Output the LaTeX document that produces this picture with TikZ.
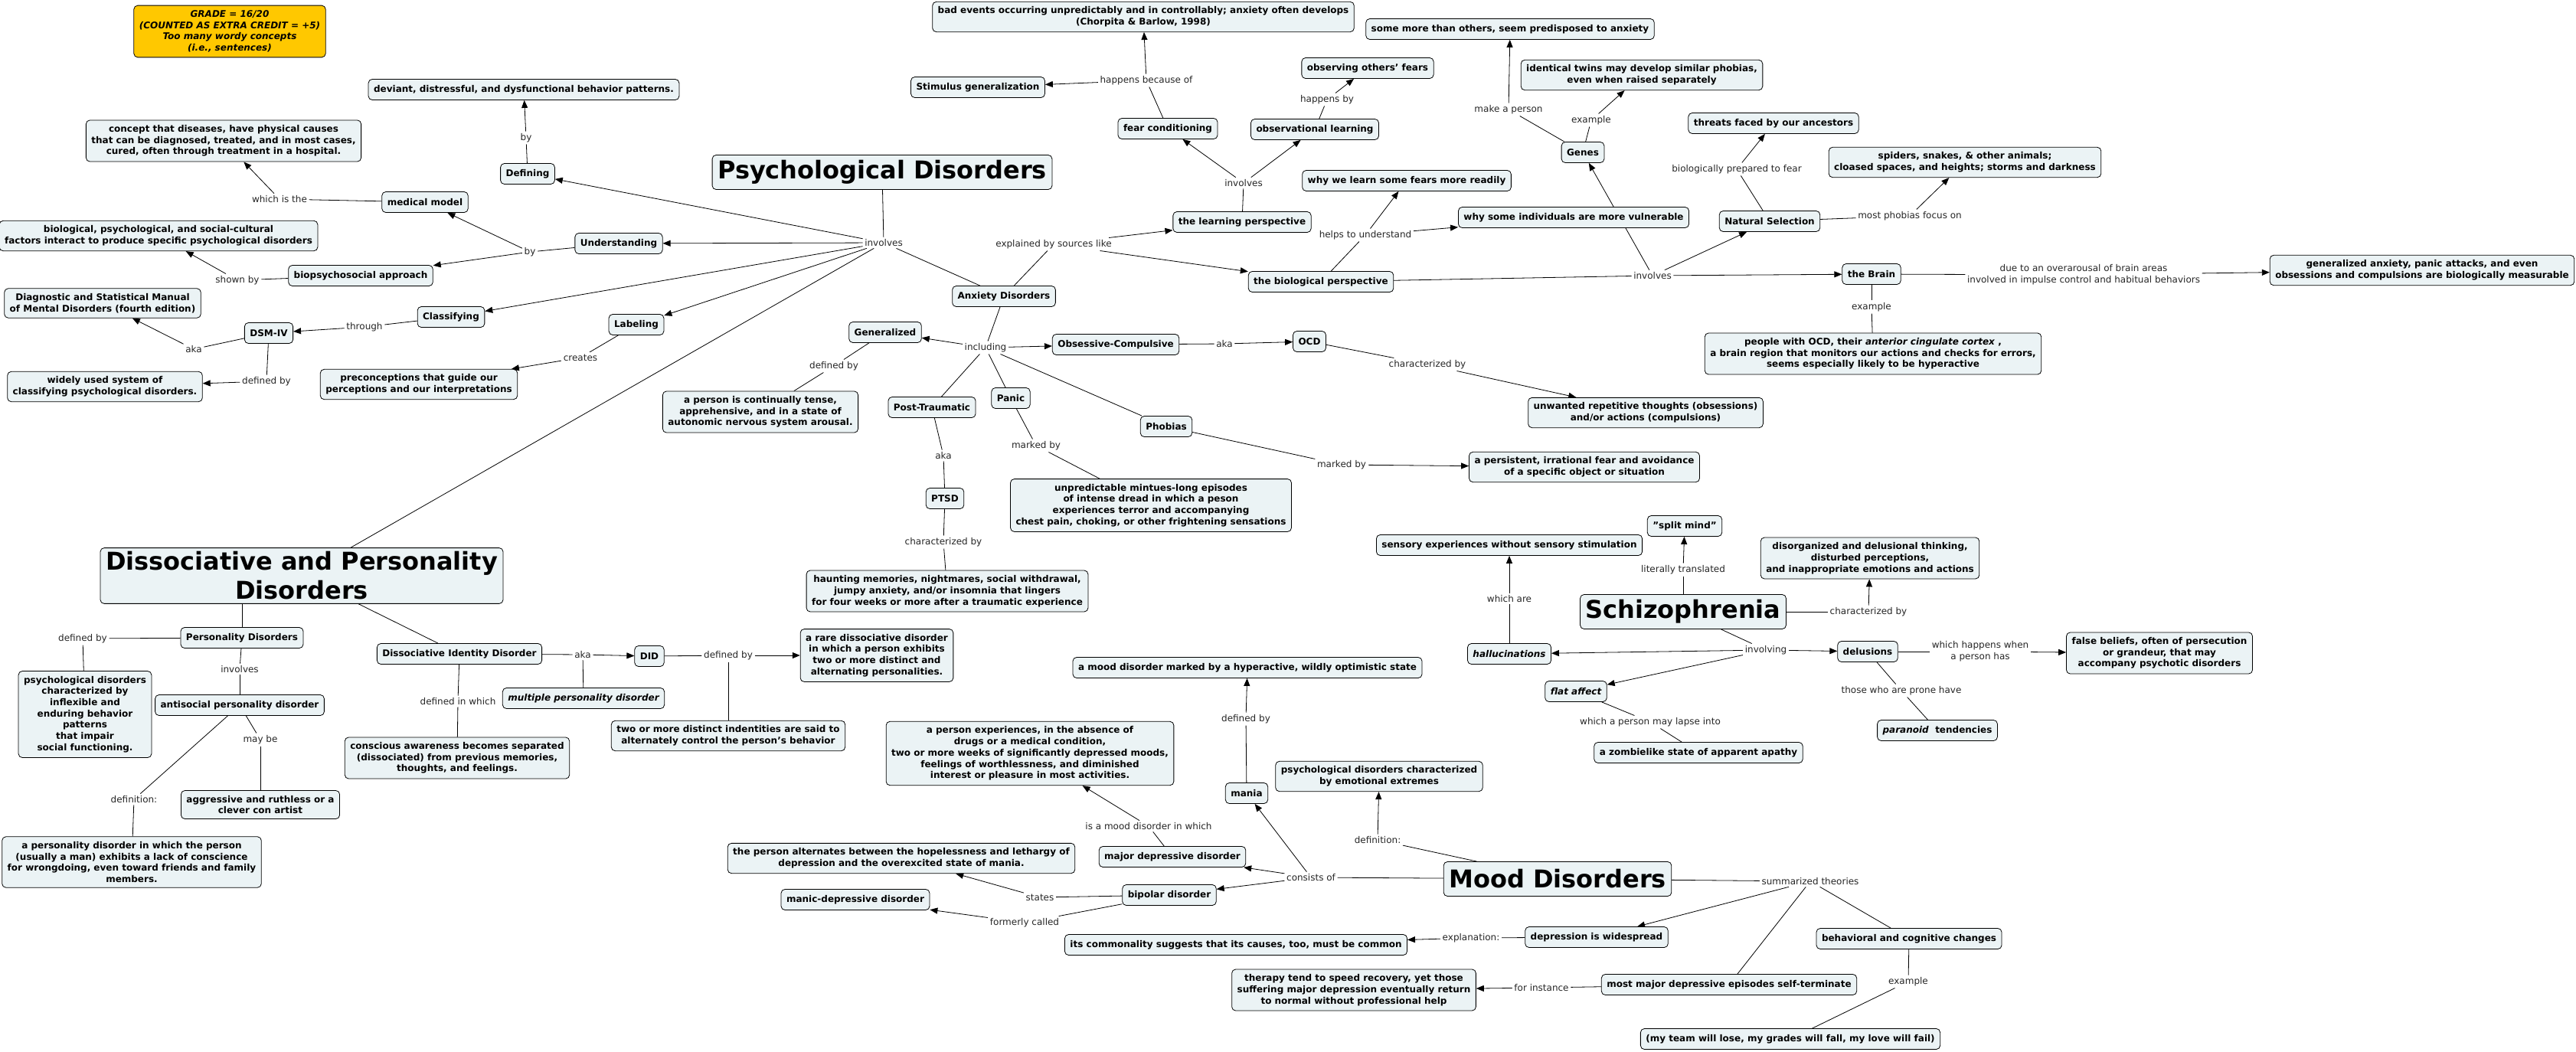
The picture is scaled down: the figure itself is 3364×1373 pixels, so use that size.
\documentclass[tikz,border=0pt]{standalone}
\usepackage{fontspec}
\setmainfont{DejaVu Sans}
\usetikzlibrary{arrows.meta}
\definecolor{cfill}{RGB}{235,243,245}
\definecolor{gold}{RGB}{255,200,0}
\newcommand\cfont{\fontsize{12}{14.7}\selectfont\bfseries}
\newcommand\lfont{\fontsize{12}{14.7}\selectfont}
\newcommand\tfont{\fontsize{32}{38}\selectfont\bfseries}
\newcommand\lnk[2]{\draw[ln] (#1) -- (#2);}
\newcommand\arw[2]{\draw[arr] (#1) -- (#2);}
\pgfdeclarelayer{back}
\pgfdeclarelayer{edges}
\pgfsetlayers{back,edges,main}
\tikzset{
 concept/.style={draw=black, line width=0.8pt, fill=cfill, rounded corners=5pt, align=center, font=\cfont, inner xsep=7pt, inner ysep=6.5pt, minimum height=27pt},
 ttl/.style={concept, font=\tfont, inner xsep=7pt, inner ysep=5pt, minimum height=45pt},
 lbl/.style={fill=white, align=center, font=\lfont, text=black!85, inner sep=2.5pt},
 ln/.style={line width=0.8pt},
 arr/.style={line width=0.8pt, -{Triangle[length=10pt,width=8pt]}}
}
\begin{document}
\begin{tikzpicture}[x=1pt,y=-1pt]
\useasboundingbox (0,0) rectangle (3364,1373);
\begin{pgfonlayer}{back}
\fill[white] (0,0) rectangle (3364,1373);
\end{pgfonlayer}

% ---------- concepts ----------
\node[concept, fill=gold, font=\cfont\itshape] (grade) at (300,41) {GRADE = 16/20\\(COUNTED AS EXTRA CREDIT = +5)\\Too many wordy concepts\\(i.e., sentences)};
\node[concept] (deviant) at (684,117) {deviant, distressful, and dysfunctional behavior patterns.};
\node[concept] (medconcept) at (292,184) {concept that diseases, have physical causes\\that can be diagnosed, treated, and in most cases,\\cured, often through treatment in a hospital.};
\node[concept] (defining) at (689,227) {Defining};
\node[concept] (medmodel) at (555,264) {medical model};
\node[concept] (biofactors) at (207,308) {biological, psychological, and social-cultural\\factors interact to produce specific psychological disorders};
\node[concept] (understanding) at (808,318) {Understanding};
\node[concept] (biopsy) at (471,360) {biopsychosocial approach};
\node[concept] (diagnostic) at (134,396) {Diagnostic and Statistical Manual\\of Mental Disorders (fourth edition)};
\node[concept] (classifying) at (589,414) {Classifying};
\node[concept] (dsm) at (351,435) {DSM-IV};
\node[concept] (labeling) at (831,424) {Labeling};
\node[concept] (widely) at (137,505) {widely used system of\\classifying psychological disorders.};
\node[concept] (precon) at (547,502) {preconceptions that guide our\\perceptions and our interpretations};
\node[ttl] (dapd) at (394,752) {Dissociative and Personality\\Disorders};
\node[concept] (persdis) at (316,833) {Personality Disorders};
\node[concept] (disfull) at (600,854) {Dissociative Identity Disorder};
\node[concept] (did) at (848,857) {DID};
\node[concept] (pdchar) at (111,933) {psychological disorders\\characterized by\\inflexible and\\enduring behavior\\patterns\\that impair\\social functioning.};
\node[concept] (antisocial) at (313,921) {antisocial personality disorder};
\node[concept, font=\cfont\itshape] (multiple) at (762,912) {multiple personality disorder};
\node[concept] (twoormore) at (951,961) {two or more distinct indentities are said to\\alternately control the person's behavior};
\node[concept] (conscious) at (597,990) {conscious awareness becomes separated\\(dissociated) from previous memories,\\thoughts, and feelings.};
\node[concept] (aggressive) at (340,1051) {aggressive and ruthless or a\\clever con artist};
\node[concept] (apd) at (172,1126) {a personality disorder in which the person\\(usually a man) exhibits a lack of conscience\\for wrongdoing, even toward friends and family\\members.};

\node[ttl] (psych) at (1152,225) {Psychological Disorders};
\node[concept] (badevents) at (1493,22) {bad events occurring unpredictably and in controllably; anxiety often develops\\(Chorpita \& Barlow, 1998)};
\node[concept] (stimgen) at (1277,114) {Stimulus generalization};
\node[concept] (fearcond) at (1525,168) {fear conditioning};
\node[concept] (obslearn) at (1717,169) {observational learning};
\node[concept] (obsothers) at (1786,89) {observing others' fears};
\node[concept] (learnpersp) at (1622,290) {the learning perspective};
\node[concept] (whylearn) at (1837,236) {why we learn some fears more readily};
\node[concept] (biopersp) at (1725,368) {the biological perspective};
\node[concept] (anxiety) at (1311,387) {Anxiety Disorders};
\node[concept] (generalized) at (1156,434) {Generalized};
\node[concept] (oc) at (1457,450) {Obsessive-Compulsive};
\node[concept] (ocd) at (1710,446) {OCD};
\node[concept] (tense) at (993,538) {a person is continually tense,\\apprehensive, and in a state of\\autonomic nervous system arousal.};
\node[concept] (posttraumatic) at (1217,532) {Post-Traumatic};
\node[concept] (panic) at (1320,520) {Panic};
\node[concept] (phobias) at (1523,557) {Phobias};
\node[concept] (ptsd) at (1234,651) {PTSD};
\node[concept] (unpredictable) at (1503,660) {unpredictable mintues-long episodes\\of intense dread in which a peson\\experiences terror and accompanying\\chest pain, choking, or other frightening sensations};
\node[concept] (haunting) at (1237,772) {haunting memories, nightmares, social withdrawal,\\jumpy anxiety, and/or insomnia that lingers\\for four weeks or more after a traumatic experience};
\node[concept] (rare) at (1145,856) {a rare dissociative disorder\\in which a person exhibits\\two or more distinct and\\alternating personalities.};
\node[concept] (moodmania) at (1629,872) {a mood disorder marked by a hyperactive, wildly optimistic state};

\node[concept] (somemore) at (1972,38) {some more than others, seem predisposed to anxiety};
\node[concept] (twins) at (2144,98) {identical twins may develop similar phobias,\\even when raised separately};
\node[concept] (threats) at (2316,161) {threats faced by our ancestors};
\node[concept] (genes) at (2067,199) {Genes};
\node[concept] (spiders) at (2566,212) {spiders, snakes, \& other animals;\\cloased spaces, and heights; storms and darkness};
\node[concept] (whysome) at (2055,284) {why some individuals are more vulnerable};
\node[concept] (natsel) at (2311,289) {Natural Selection};
\node[concept] (brain) at (2444,358) {the Brain};
\node[concept] (peopleocd) at (2446,462) {people with OCD, their \textit{anterior cingulate cortex} ,\\a brain region that monitors our actions and checks for errors,\\seems especially likely to be hyperactive};
\node[concept] (genanx) at (3163,353) {generalized anxiety, panic attacks, and even\\obsessions and compulsions are biologically measurable};
\node[concept] (unwanted) at (2149,539) {unwanted repetitive thoughts (obsessions)\\and/or actions (compulsions)};
\node[concept] (persistent) at (2069,610) {a persistent, irrational fear and avoidance\\of a specific object or situation};

\node[concept] (splitmind) at (2200,687) {"split mind"};
\node[concept] (sensory) at (1971,712) {sensory experiences without sensory stimulation};
\node[concept] (disorganized) at (2442,729) {disorganized and delusional thinking,\\disturbed perceptions,\\and inappropriate emotions and actions};
\node[ttl] (schizo) at (2198,799) {Schizophrenia};
\node[concept, font=\cfont\itshape] (halluc) at (1971,854) {hallucinations};
\node[concept] (delusions) at (2439,851) {delusions};
\node[concept] (falsebel) at (2820,853) {false beliefs, often of persecution\\or grandeur, that may\\accompany psychotic disorders};
\node[concept, font=\cfont\itshape] (flataffect) at (2058,903) {flat affect};
\node[concept] (paranoid) at (2530,954) {\textit{paranoid}\ \ tendencies};
\node[concept] (zombie) at (2218,983) {a zombielike state of apparent apathy};

\node[concept] (mdexp) at (1345,984) {a person experiences, in the absence of\\drugs or a medical condition,\\two or more weeks of significantly depressed moods,\\feelings of worthlessness, and diminished\\interest or pleasure in most activities.};
\node[concept] (mania) at (1628,1036) {mania};
\node[concept] (emotional) at (1801,1014) {psychological disorders characterized\\by emotional extremes};
\node[concept] (alternates) at (1177,1121) {the person alternates between the hopelessness and lethargy of\\depression and the overexcited state of mania.};
\node[concept] (majordep) at (1531,1119) {major depressive disorder};
\node[concept] (manicdep) at (1117,1175) {manic-depressive disorder};
\node[concept] (bipolar) at (1527,1169) {bipolar disorder};
\node[concept] (commonality) at (1614,1234) {its commonality suggests that its causes, too, must be common};
\node[concept] (therapy) at (1768,1293) {therapy tend to speed recovery, yet those\\suffering major depression eventually return\\to normal without professional help};
\node[ttl] (mood) at (2034,1148) {Mood Disorders};
\node[concept] (widespread) at (2085,1224) {depression is widespread};
\node[concept] (behavioral) at (2493,1226) {behavioral and cognitive changes};
\node[concept] (selfterm) at (2258,1286) {most major depressive episodes self-terminate};
\node[concept] (myteam) at (2338,1357) {(my team will lose, my grades will fall, my love will fail)};

% ---------- linking phrases ----------
\node[lbl] (lby1) at (687,180) {by};
\node[lbl] (lwhichis) at (365,260) {which is the};
\node[lbl] (lby2) at (692,329) {by};
\node[lbl] (lshown) at (310,366) {shown by};
\node[lbl] (lthrough) at (476,427) {through};
\node[lbl] (laka1) at (253,456) {aka};
\node[lbl] (ldef1) at (348,498) {defined by};
\node[lbl] (lcreates) at (758,467) {creates};
\node[lbl] (linv) at (1154,317) {involves};
\node[lbl] (lbecause) at (1497,105) {happens because of};
\node[lbl] (lhappby) at (1733,130) {happens by};
\node[lbl] (linv2) at (1624,239) {involves};
\node[lbl] (lexpl) at (1376,319) {explained by sources like};
\node[lbl] (lhelps) at (1783,307) {helps to understand};
\node[lbl] (linv3) at (2158,360) {involves};
\node[lbl] (lmake) at (1970,143) {make a person};
\node[lbl] (lex1) at (2078,157) {example};
\node[lbl] (lbioprep) at (2268,221) {biologically prepared to fear};
\node[lbl] (lmostph) at (2494,282) {most phobias focus on};
\node[lbl] (lex2) at (2444,401) {example};
\node[lbl] (ldue) at (2721,359) {due to an overarousal of brain areas\\involved in impulse control and habitual behaviors};
\node[lbl] (lincl) at (1287,454) {including};
\node[lbl] (laka2) at (1599,449) {aka};
\node[lbl] (ldef2) at (1089,478) {defined by};
\node[lbl] (laka3) at (1232,595) {aka};
\node[lbl] (lmark1) at (1353,582) {marked by};
\node[lbl] (lchar1) at (1232,708) {characterized by};
\node[lbl] (lmark2) at (1752,607) {marked by};
\node[lbl] (lchar2) at (1864,476) {characterized by};
\node[lbl] (ldef3) at (108,834) {defined by};
\node[lbl] (linv4) at (313,874) {involves};
\node[lbl] (ldefn1) at (175,1044) {definition:};
\node[lbl] (lmaybe) at (340,966) {may be};
\node[lbl] (laka4) at (761,855) {aka};
\node[lbl] (ldefin) at (598,916) {defined in which};
\node[lbl] (ldef4) at (951,856) {defined by};
\node[lbl] (llit) at (2198,744) {literally translated};
\node[lbl] (lwhichare) at (1971,782) {which are};
\node[lbl] (lchar3) at (2440,799) {characterized by};
\node[lbl] (linvolving) at (2306,849) {involving};
\node[lbl] (lwhen) at (2586,851) {which happens when\\a person has};
\node[lbl] (lprone) at (2483,902) {those who are prone have};
\node[lbl] (llapse) at (2155,943) {which a person may lapse into};
\node[lbl] (ldef5) at (1627,939) {defined by};
\node[lbl] (lmoodin) at (1500,1079) {is a mood disorder in which};
\node[lbl] (lstates) at (1358,1172) {states};
\node[lbl] (lformer) at (1338,1205) {formerly called};
\node[lbl] (lconsists) at (1712,1146) {consists of};
\node[lbl] (ldefn2) at (1799,1097) {definition:};
\node[lbl] (lsumm) at (2364,1151) {summarized theories};
\node[lbl] (lexpln) at (1921,1225) {explanation:};
\node[lbl] (lforinst) at (2013,1290) {for instance};
\node[lbl] (lex3) at (2492,1282) {example};

% ---------- connectors ----------
\begin{pgfonlayer}{edges}
\lnk{psych}{linv}
\arw{linv}{defining} \arw{linv}{understanding} \arw{linv}{classifying} \arw{linv}{labeling}
\lnk{linv}{dapd} \lnk{linv}{anxiety}
\lnk{defining}{lby1} \arw{lby1}{deviant}
\lnk{understanding}{lby2} \arw{lby2}{medmodel} \arw{lby2}{biopsy}
\lnk{medmodel}{lwhichis} \arw{lwhichis}{medconcept}
\lnk{biopsy}{lshown} \arw{lshown}{biofactors}
\lnk{classifying}{lthrough} \arw{lthrough}{dsm}
\lnk{dsm}{laka1} \arw{laka1}{diagnostic}
\lnk{dsm}{ldef1} \arw{ldef1}{widely}
\lnk{labeling}{lcreates} \arw{lcreates}{precon}
% anxiety
\lnk{anxiety}{lexpl} \arw{lexpl}{learnpersp} \arw{lexpl}{biopersp}
\lnk{learnpersp}{linv2} \arw{linv2}{fearcond} \arw{linv2}{obslearn}
\lnk{fearcond}{lbecause} \arw{lbecause}{badevents} \arw{lbecause}{stimgen}
\lnk{obslearn}{lhappby} \arw{lhappby}{obsothers}
\lnk{biopersp}{lhelps} \arw{lhelps}{whylearn} \arw{lhelps}{whysome}
\lnk{biopersp}{linv3} \arw{linv3}{genes} \arw{linv3}{natsel} \arw{linv3}{brain}
\lnk{genes}{lmake} \arw{lmake}{somemore}
\lnk{genes}{lex1} \arw{lex1}{twins}
\lnk{natsel}{lbioprep} \arw{lbioprep}{threats}
\lnk{natsel}{lmostph} \arw{lmostph}{spiders}
\lnk{brain}{ldue} \arw{ldue}{genanx}
\lnk{brain}{lex2} \lnk{lex2}{peopleocd}
\lnk{anxiety}{lincl} \arw{lincl}{generalized} \arw{lincl}{oc}
\lnk{lincl}{posttraumatic} \lnk{lincl}{panic} \lnk{lincl}{phobias}
\lnk{generalized}{ldef2} \lnk{ldef2}{tense}
\lnk{posttraumatic}{laka3} \lnk{laka3}{ptsd}
\lnk{ptsd}{lchar1} \lnk{lchar1}{haunting}
\lnk{panic}{lmark1} \lnk{lmark1}{unpredictable}
\lnk{phobias}{lmark2} \arw{lmark2}{persistent}
\lnk{oc}{laka2} \arw{laka2}{ocd}
\lnk{ocd}{lchar2} \arw{lchar2}{unwanted}
% dissociative and personality
\draw[ln] (persdis.north) -- (persdis.north |- dapd.south);
\lnk{dapd}{disfull}
\lnk{persdis}{ldef3} \lnk{ldef3}{pdchar}
\lnk{persdis}{linv4} \lnk{linv4}{antisocial}
\lnk{antisocial}{ldefn1} \lnk{ldefn1}{apd}
\lnk{antisocial}{lmaybe} \lnk{lmaybe}{aggressive}
\lnk{disfull}{laka4} \arw{laka4}{did} \lnk{laka4}{multiple}
\lnk{disfull}{ldefin} \lnk{ldefin}{conscious}
\lnk{did}{ldef4} \arw{ldef4}{rare} \lnk{ldef4}{twoormore}
% schizophrenia
\lnk{schizo}{llit} \arw{llit}{splitmind}
\lnk{schizo}{lchar3} \arw{lchar3}{disorganized}
\lnk{schizo}{linvolving} \arw{linvolving}{halluc} \arw{linvolving}{delusions} \arw{linvolving}{flataffect}
\lnk{halluc}{lwhichare} \arw{lwhichare}{sensory}
\lnk{delusions}{lwhen} \arw{lwhen}{falsebel}
\lnk{delusions}{lprone} \lnk{lprone}{paranoid}
\lnk{flataffect}{llapse} \lnk{llapse}{zombie}
% mood
\lnk{mood}{ldefn2} \arw{ldefn2}{emotional}
\lnk{mood}{lconsists} \arw{lconsists}{mania} \arw{lconsists}{majordep} \arw{lconsists}{bipolar}
\lnk{mania}{ldef5} \arw{ldef5}{moodmania}
\lnk{majordep}{lmoodin} \arw{lmoodin}{mdexp}
\lnk{bipolar}{lstates} \arw{lstates}{alternates}
\lnk{bipolar}{lformer} \arw{lformer}{manicdep}
\lnk{mood}{lsumm} \arw{lsumm}{widespread} \lnk{lsumm}{selfterm} \lnk{lsumm}{behavioral}
\lnk{widespread}{lexpln} \arw{lexpln}{commonality}
\lnk{selfterm}{lforinst} \arw{lforinst}{therapy}
\lnk{behavioral}{lex3} \lnk{lex3}{myteam}
\end{pgfonlayer}
\end{tikzpicture}
\end{document}
